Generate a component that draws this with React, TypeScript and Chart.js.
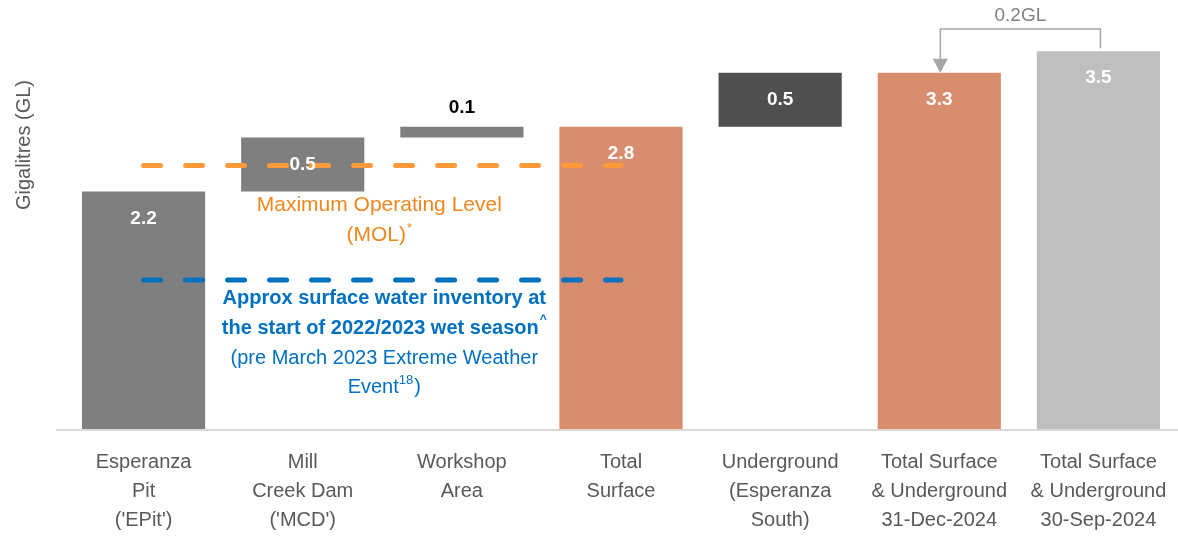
import { useEffect, useRef } from 'react';
import { Chart, registerables } from 'chart.js';

Chart.register(...registerables);

// Category labels (multi-line)
const categories: string[][] = [
  ['Esperanza', 'Pit', "('EPit')"],
  ['Mill', 'Creek Dam', "('MCD')"],
  ['Workshop', 'Area'],
  ['Total', 'Surface'],
  ['Underground', '(Esperanza', 'South)'],
  ['Total Surface', '& Underground', '31-Dec-2024'],
  ['Total Surface', '& Underground', '30-Sep-2024'],
];

// Waterfall: where each bar starts and how much it adds (GL)
const barStart = [0, 2.2, 2.7, 0, 2.8, 0, 0];
const barValue = [2.2, 0.5, 0.1, 2.8, 0.5, 3.3, 3.5];
const barColors = ['#7f7f7f', '#7f7f7f', '#7f7f7f', '#d98d6f', '#4f4f4f', '#d98d6f', '#bfbfbf'];
const labelPlacement = ['top', 'middle', 'above', 'top', 'middle', 'top', 'top'];

// Reference levels (GL)
const molLevel = 2.44;
const inventoryLevel = 1.38;
const referenceSpan = [true, true, true, true, false, false, false];

const changeLabel = '0.2GL';
const yTitle = 'Gigalitres (GL)';

const FONT = '"Liberation Sans", Arial, sans-serif';

function textWithSup(
  ctx: CanvasRenderingContext2D,
  main: string,
  sup: string,
  cx: number,
  cy: number,
  font: string,
  supFont: string,
  color: string,
  rise: number
) {
  ctx.font = font;
  const w1 = ctx.measureText(main).width;
  ctx.font = supFont;
  const w2 = ctx.measureText(sup).width;
  const x0 = cx - (w1 + w2 + 1) / 2;
  ctx.textAlign = 'left';
  ctx.textBaseline = 'middle';
  ctx.fillStyle = color;
  ctx.font = font;
  ctx.fillText(main, x0, cy);
  ctx.font = supFont;
  ctx.fillText(sup, x0 + w1 + 1, cy - rise);
}

const overlayPlugin = {
  id: 'waterfallOverlay',
  beforeDatasetsDraw(chart: any) {
    const ctx = chart.ctx as CanvasRenderingContext2D;
    const y = chart.scales.y;
    const y0 = y.getPixelForValue(0);
    ctx.save();
    ctx.strokeStyle = '#d9d9d9';
    ctx.lineWidth = 2;
    ctx.beginPath();
    ctx.moveTo(56, y0 + 1);
    ctx.lineTo(chart.width, y0 + 1);
    ctx.stroke();
    ctx.restore();
  },
  afterDatasetsDraw(chart: any) {
    const ctx = chart.ctx as CanvasRenderingContext2D;
    const x = chart.scales.x;
    const y = chart.scales.y;
    ctx.save();

    // value labels
    ctx.textAlign = 'center';
    ctx.textBaseline = 'middle';
    ctx.font = `bold 19px ${FONT}`;
    barValue.forEach((v, i) => {
      const cx = x.getPixelForValue(i);
      const top = y.getPixelForValue(barStart[i] + v);
      const bottom = y.getPixelForValue(barStart[i]);
      let ty = top + 27;
      let color = '#ffffff';
      if (labelPlacement[i] === 'middle') ty = (top + bottom) / 2;
      if (labelPlacement[i] === 'above') {
        ty = top - 19;
        color = '#000000';
      }
      ctx.fillStyle = color;
      ctx.fillText(v.toFixed(1), cx, ty);
    });

    // reference-level captions
    const midX = (x.getPixelForValue(1) + x.getPixelForValue(2)) / 2;
    const molY = y.getPixelForValue(molLevel);
    const orange = '#f0861e';
    ctx.textAlign = 'center';
    ctx.fillStyle = orange;
    ctx.font = `21px ${FONT}`;
    ctx.fillText('Maximum Operating Level', midX - 3, molY + 40);
    textWithSup(ctx, '(MOL)', '*', midX - 3, molY + 70, `21px ${FONT}`, `13px ${FONT}`, orange, 7);

    const invY = y.getPixelForValue(inventoryLevel);
    const blue = '#0070c0';
    ctx.textAlign = 'center';
    ctx.fillStyle = blue;
    ctx.font = `bold 20px ${FONT}`;
    ctx.fillText('Approx surface water inventory at', midX + 2, invY + 18);
    textWithSup(ctx, 'the start of 2022/2023 wet season', '^', midX + 2, invY + 48, `bold 20px ${FONT}`, `bold 12px ${FONT}`, blue, 8);
    ctx.textAlign = 'center';
    ctx.font = `20px ${FONT}`;
    ctx.fillText('(pre March 2023 Extreme Weather', midX + 2, invY + 78);
    ctx.font = `20px ${FONT}`;
    const w1 = ctx.measureText('Event').width;
    ctx.font = `13px ${FONT}`;
    const w2 = ctx.measureText('18').width;
    ctx.font = `20px ${FONT}`;
    const w3 = ctx.measureText(')').width;
    const sx = midX + 2 - (w1 + w2 + w3 + 1) / 2;
    ctx.textAlign = 'left';
    ctx.fillText('Event', sx, invY + 107);
    ctx.font = `13px ${FONT}`;
    ctx.fillText('18', sx + w1, invY + 100);
    ctx.font = `20px ${FONT}`;
    ctx.fillText(')', sx + w1 + w2 + 1, invY + 107);

    // change bracket between the last two totals
    const xr = x.getPixelForValue(6) + 2;
    const xl = x.getPixelForValue(5) + 1;
    const yr = y.getPixelForValue(barStart[6] + barValue[6]) - 3;
    const tipY = y.getPixelForValue(barStart[5] + barValue[5]);
    const yh = 29;
    ctx.strokeStyle = '#a6a6a6';
    ctx.fillStyle = '#a6a6a6';
    ctx.lineWidth = 1.5;
    ctx.beginPath();
    ctx.moveTo(xr, yr);
    ctx.lineTo(xr, yh);
    ctx.lineTo(xl, yh);
    ctx.lineTo(xl, tipY - 13);
    ctx.stroke();
    ctx.beginPath();
    ctx.moveTo(xl - 7.5, tipY - 14);
    ctx.lineTo(xl + 7.5, tipY - 14);
    ctx.lineTo(xl, tipY);
    ctx.closePath();
    ctx.fill();
    ctx.fillStyle = '#808080';
    ctx.textAlign = 'center';
    ctx.textBaseline = 'middle';
    ctx.font = `19px ${FONT}`;
    ctx.fillText(changeLabel, (xl + xr) / 2, 16);

    // y-axis title
    ctx.save();
    ctx.translate(24, 145);
    ctx.rotate(-Math.PI / 2);
    ctx.fillStyle = '#595959';
    ctx.font = `20px ${FONT}`;
    ctx.textAlign = 'center';
    ctx.textBaseline = 'middle';
    ctx.fillText(yTitle, 0, 0);
    ctx.restore();

    ctx.restore();
  },
};

export default function App() {
  const canvasRef = useRef<HTMLCanvasElement | null>(null);

  useEffect(() => {
    if (!canvasRef.current) return;
    const levelLine = (level: number) => referenceSpan.map((on) => (on ? level : null));
    const chart = new Chart(canvasRef.current, {
      type: 'bar',
      data: {
        labels: categories,
        datasets: [
          {
            type: 'line',
            label: 'MOL',
            data: levelLine(molLevel),
            borderColor: '#ff9a3a',
            borderWidth: 5,
            borderDash: [17, 25],
            borderCapStyle: 'round',
            pointRadius: 0,
            fill: false,
            order: 0,
          } as any,
          {
            type: 'line',
            label: 'Inventory',
            data: levelLine(inventoryLevel),
            borderColor: '#0070c0',
            borderWidth: 5,
            borderDash: [17, 25],
            borderCapStyle: 'round',
            pointRadius: 0,
            fill: false,
            order: 0,
          } as any,
          {
            type: 'bar',
            label: 'Volume',
            data: barStart.map((s, i) => [s, s + barValue[i]]) as any,
            backgroundColor: barColors,
            borderWidth: 0,
            barPercentage: 0.774,
            categoryPercentage: 1,
            order: 1,
          },
        ],
      },
      options: {
        responsive: false,
        animation: false,
        layout: { padding: { left: 64, right: -3, top: 8, bottom: 0 } },
        plugins: { legend: { display: false }, tooltip: { enabled: false } },
        scales: {
          x: {
            grid: { display: false },
            border: { display: false },
            ticks: {
              color: '#595959',
              font: { family: FONT, size: 20, lineHeight: 1.45 },
              padding: 11,
              autoSkip: false,
              maxRotation: 0,
            },
            afterFit: (scale: any) => {
              scale.height = 107;
            },
          },
          y: { display: false, min: 0, max: 3.9 },
        },
      },
      plugins: [overlayPlugin],
    });
    return () => chart.destroy();
  }, []);

  return (
    <div style={{ position: 'absolute', left: 0, top: 0, width: 1178, height: 536, background: '#fff' }}>
      <canvas ref={canvasRef} width={1178} height={536} style={{ width: 1178, height: 536 }} />
    </div>
  );
}
